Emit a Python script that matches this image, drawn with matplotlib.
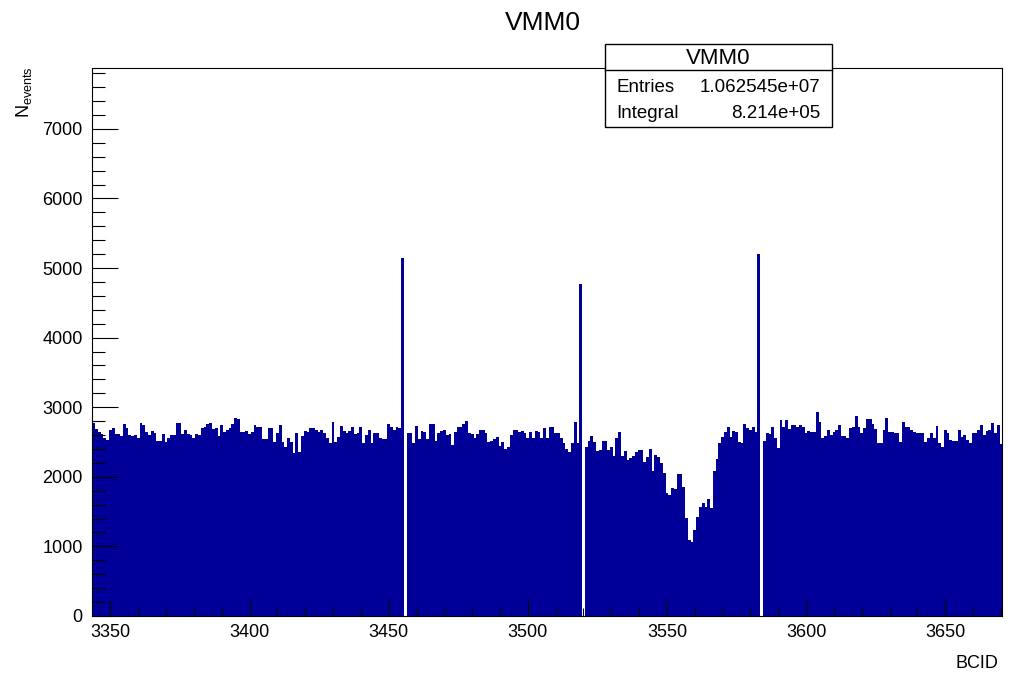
import matplotlib
matplotlib.use("Agg")
import matplotlib.pyplot as plt
from matplotlib.patches import Rectangle
from matplotlib.ticker import MultipleLocator
import numpy as np

plt.rcParams['font.family'] = ['Liberation Sans', 'DejaVu Sans']
plt.rcParams['mathtext.fontset'] = 'custom'
plt.rcParams['mathtext.rm'] = 'Liberation Sans'

# histogram content, one value per BCID starting at first_bcid
hist_name = "VMM0"
x_label = "BCID"
y_label = r"N$_{\mathrm{events}}$"
first_bcid = 3344
counts = [
    2770, 2690, 2650, 2610, 2560, 2530, 2680, 2700, 2610, 2620, 2580, 2760,
    2700, 2600, 2590, 2600, 2560, 2780, 2740, 2640, 2600, 2660, 2630, 2520,
    2520, 2610, 2500, 2560, 2600, 2600, 2780, 2770, 2620, 2670, 2620, 2600,
    2560, 2620, 2600, 2700, 2720, 2760, 2770, 2690, 2700, 2580, 2750, 2640,
    2680, 2700, 2760, 2840, 2830, 2640, 2640, 2660, 2615, 2650, 2745, 2720,
    2710, 2545, 2540, 2695, 2695, 2505, 2635, 2745, 2505, 2435, 2555, 2505,
    2345, 2625, 2360, 2580, 2665, 2650, 2695, 2695, 2670, 2650, 2680, 2625,
    2555, 2480, 2790, 2505, 2575, 2730, 2665, 2625, 2665, 2720,
    2615, 2625, 2710, 2480, 2600, 2670, 2480, 2635, 2625, 2565, 2540, 2545,
    2760, 2710, 2680, 2720, 2700, 5140, 0, 2625, 2635, 2480, 2730, 2540,
    2665, 2650, 2540, 2760, 2760, 2520, 2625, 2665, 2680, 2600, 2615, 2455,
    2650, 2720, 2720, 2760, 2805, 2625, 2615, 2565, 2615, 2670, 2680,
    2625, 2505, 2520, 2540, 2575, 2440, 2505, 2405, 2435, 2600, 2670, 2680,
    2650, 2665, 2635, 2565, 2650, 2565, 2665, 2650, 2555, 2695, 2565, 2720,
    2720, 2625, 2635, 2555, 2480, 2405, 2360, 2490, 2790, 2480, 4770, 0,
    2435, 2520, 2585, 2505, 2375, 2390, 2520, 2520, 2380, 2430, 2300,
    2553, 2649, 2299, 2376, 2242, 2266, 2299, 2361, 2385, 2385, 2218, 2290,
    2395, 2088, 2314, 2290, 2194, 2050, 1763, 1739, 1835, 1820, 2041, 2041,
    1849, 1404, 1092, 1068, 1236, 1427, 1571, 1628, 1562, 1677, 1547, 2088,
    2251, 2481, 2577, 2649, 2711, 2577, 2663, 2649, 2505, 2491, 2759,
    2695, 2670, 2720, 2650, 5200, 0, 2520, 2635, 2615, 2710, 2555, 2420,
    2815, 2720, 2815, 2690, 2745, 2745, 2720, 2745, 2710, 2625, 2665, 2650,
    2650, 2925, 2790, 2565, 2585, 2680, 2600, 2650, 2680, 2745, 2585, 2585,
    2555, 2695, 2710, 2870, 2720, 2625, 2695, 2830, 2830, 2760,
    2690, 2480, 2480, 2680, 2840, 2650, 2650, 2625, 2625, 2500, 2790, 2720,
    2710, 2670, 2650, 2625, 2635, 2635, 2505, 2555, 2635, 2555, 2730, 2480,
    2435, 2680, 2625, 2530, 2520, 2520, 2680, 2575, 2600, 2530, 2480, 2625,
    2625, 2680, 2745, 2600, 2665, 2680, 2770, 2630, 2750, 2470,
]
stat_labels = ["Entries", "Integral"]
stat_values = ["1.062545e+07", "8.214e+05"]

W, H = 1017, 676
fig = plt.figure(figsize=(W / 100, H / 100), dpi=100)
ax = fig.add_axes([92.3 / W, 1 - 616 / H, 910 / W, 548 / H])

edges = np.arange(len(counts) + 1) + first_bcid - 0.5
ax.stairs(counts, edges, fill=True, color='#000099', linewidth=0)

ax.set_xlim(edges[0], edges[-1])
ax.set_ylim(0, 7875)
ax.xaxis.set_major_locator(MultipleLocator(50))
ax.xaxis.set_minor_locator(MultipleLocator(10))
ax.yaxis.set_major_locator(MultipleLocator(1000))
ax.yaxis.set_minor_locator(MultipleLocator(200))
ax.tick_params(which='both', direction='in', top=False, right=False,
               width=0.8, labelsize=13)
ax.tick_params(axis='x', which='major', length=11.5, pad=6)
ax.tick_params(axis='x', which='minor', length=5.8)
ax.tick_params(axis='y', which='major', length=19, pad=7)
ax.tick_params(axis='y', which='minor', length=9.5)
for sp in ax.spines.values():
    sp.set_linewidth(0.8)

fig.text(543 / W, 1 - 23 / H, hist_name, ha='center', va='center', fontsize=19)
fig.text(998 / W, 1 - 663 / H, x_label, ha='right', va='center', fontsize=13)
fig.text(24 / W, 1 - 66 / H, y_label, ha='center', va='top', rotation=90,
         fontsize=13)

# stats box
bx0, bx1, by0, by1, bdiv = 605, 832, 44, 127, 70
fig.patches.append(Rectangle((bx0 / W, 1 - by1 / H), (bx1 - bx0) / W,
                             (by1 - by0) / H, transform=fig.transFigure,
                             facecolor='white', edgecolor='black', lw=1,
                             zorder=5))
fig.lines.append(plt.Line2D([bx0 / W, bx1 / W], [1 - bdiv / H] * 2,
                            transform=fig.transFigure, color='black', lw=1,
                            zorder=6))
fig.text((bx0 + bx1) / 2 / W, 1 - 58 / H, hist_name, ha='center',
         va='center', fontsize=16, zorder=7)
for i, (lab, val) in enumerate(zip(stat_labels, stat_values)):
    yy = 1 - (88 + 25 * i) / H
    fig.text(616 / W, yy, lab, ha='left', va='center', fontsize=13.5, zorder=7)
    fig.text(820 / W, yy, val, ha='right', va='center', fontsize=13.5,
             zorder=7)

fig.savefig('out.png', dpi=100)
